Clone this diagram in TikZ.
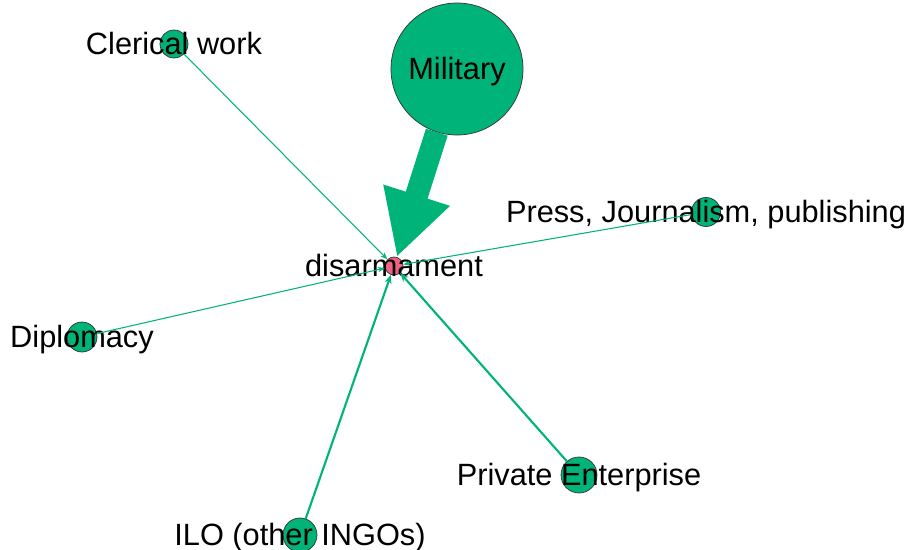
\documentclass[tikz,border=0pt]{standalone}
\usepackage{fontspec}
\setmainfont{Liberation Sans}
\usetikzlibrary{arrows.meta}
\definecolor{gephigreen}{RGB}{0,179,120}
\definecolor{gephipink}{RGB}{238,98,130}

\begin{document}
\begin{tikzpicture}[
    topic/.style={circle, draw=black!80, line width=0.4pt, fill=gephipink, inner sep=0pt},
    field/.style={circle, draw=black!80, line width=0.4pt, fill=gephigreen, inner sep=0pt},
    every label/.style={font=\fontsize{17.5}{21}\selectfont, text height=12.5pt, text depth=0pt, inner sep=0pt},
    thinlink/.style={draw=gephigreen, line width=0.6pt, -{Stealth[length=4pt, width=3pt]}},
    midlink/.style={draw=gephigreen, line width=1.2pt, -{Stealth[length=5pt, width=4pt]}},
    biglink/.style={draw=gephigreen, line width=13pt, -{Triangle[length=37pt, width=37pt]}}
  ]
  \useasboundingbox (0,0) rectangle (18.26,-11);

  \node[field, minimum size=2.64cm, label=center:{Military}] (mil) at (9.14,-1.38) {};
  \node[field, minimum size=0.56cm, label=center:{Clerical work}] (cler) at (3.48,-0.88) {};
  \node[field, minimum size=0.60cm, label=center:{Diplomacy}] (dipl) at (1.64,-6.74) {};
  \node[field, minimum size=0.58cm, label=center:{Press, Journalism, publishing}] (press) at (14.12,-4.24) {};
  \node[field, minimum size=0.72cm, label=center:{Private Enterprise}] (priv) at (11.58,-9.5) {};
  \node[field, minimum size=0.68cm, label=center:{ILO (other INGOs)}] (ilo) at (6.0,-10.7) {};
  \node[topic, minimum size=0.36cm, label=center:{disarmament}] (dis) at (7.88,-5.32) {};

  \draw[thinlink] (cler) -- (dis);
  \draw[thinlink] (dipl) -- (dis);
  \draw[thinlink] (press) -- (dis);
  \draw[midlink] (priv) -- (dis);
  \draw[midlink] (ilo) -- (dis);
  \draw[biglink] (mil) -- (dis);
\end{tikzpicture}
\end{document}
